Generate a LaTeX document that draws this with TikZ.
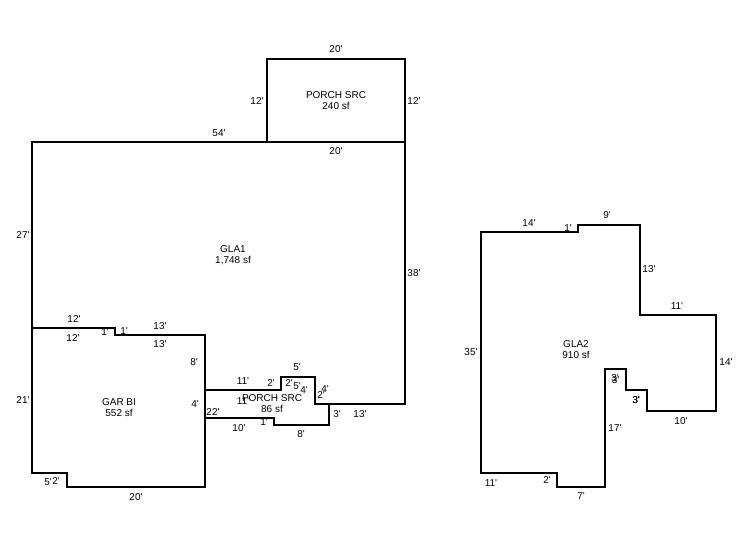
\documentclass[tikz,border=0pt]{standalone}
\usepackage{fontspec}
\newfontfamily\dimfont{Liberation Sans}

\begin{document}
\begin{tikzpicture}[x=1pt,y=-1pt]
\tikzstyle{every node}+=[inner sep=0pt,align=center,font=\dimfont\fontsize{10}{11}\selectfont]
\tikzstyle{wall}=[black,line width=2.4pt,line join=miter]
\useasboundingbox (0,0) rectangle (746,547);
% porch on top
\draw [wall] (267,142) -- (267,59) -- (405,59) -- (405,142);
\draw (336,49) node (ptop) {20'};
\draw (257,101) node (pleft) {12'};
\draw (414,101) node (pright) {12'};
\draw (336,100.5) node (porchtop) {PORCH SRC\\240 sf};
\draw (336,151) node (pbottom) {20'};
% GLA1
\draw [wall] (32,328) -- (32,142) -- (405,142) -- (405,404) -- (315,404) -- (315,377) -- (281,377) -- (281,390) -- (205,390);
\draw (219,133) node (gtop) {54'};
\draw (23,235) node (gleft) {27'};
\draw (414,273) node (gright) {38'};
\draw (233,255.5) node (gla1) {GLA1\\1,748 sf};
\draw (74,319) node (gb12) {12'};
\draw (105,332) node (gb1) {1'};
\draw (160,326) node (gb13) {13'};
\draw (243,381) node (g11) {11'};
\draw (271,383) node (g2a) {2'};
\draw (297,367) node (g5) {5'};
\draw (304,390) node (g4) {4'};
\draw (360,414) node (g13) {13'};
% garage
\draw [wall] (205,335) -- (115,335) -- (115,328) -- (32,328) -- (32,473) -- (67,473) -- (67,487) -- (205,487) -- cycle;
\draw (73,338) node (ga12) {12'};
\draw (124,331) node (ga1) {1'};
\draw (160,344) node (ga13) {13'};
\draw (194,362) node (ga8) {8'};
\draw (23,400) node (ga21) {21'};
\draw (119,407.5) node (gar) {GAR BI\\552 sf};
\draw (195,404) node (ga4) {4'};
\draw (48,482) node (ga5) {5'};
\draw (56,481) node (ga2) {2'};
\draw (136,497) node (ga20) {20'};
% porch in the corner
\draw [wall] (205,418) -- (274,418) -- (274,425) -- (329,425) -- (329,404);
\draw (243,401) node (p11) {11'};
\draw (272,403.5) node (porchlow) {PORCH SRC\\86 sf};
\draw (289,383) node (p2) {2'};
\draw (297,386) node (p5) {5'};
\draw (325,389) node (p4) {4'};
\draw (321,395) node (p2b) {2'};
\draw (213,412) node (p22) {22'};
\draw (239,428) node (p10) {10'};
\draw (264,422) node (p1) {1'};
\draw (301,434) node (p8) {8'};
\draw (337,414) node (p3) {3'};
% GLA2
\draw [wall] (481,232) -- (578,232) -- (578,225) -- (640,225) -- (640,315) -- (716,315) -- (716,411) -- (647,411) -- (647,390) -- (626,390) -- (626,369) -- (605,369) -- (605,487) -- (557,487) -- (557,473) -- (481,473) -- cycle;
\draw (529,223) node (s14) {14'};
\draw (568,228) node (s1) {1'};
\draw (607,215) node (s9) {9'};
\draw (649,269) node (s13) {13'};
\draw (677,306) node (s11) {11'};
\draw (726,362) node (s14b) {14'};
\draw (471,352) node (s35) {35'};
\draw (576,349.5) node (gla2) {GLA2\\910 sf};
\draw (615,378.5) node (s3a) {3'};
\draw (615.7,379.7) node (s3b) {3'};
\draw (636,400) node (s3c) {3'};
\draw (636.4,400) node (s3d) {3'};
\draw (681,421) node (s10) {10'};
\draw (615,428) node (s17) {17'};
\draw (581,496) node (s7) {7'};
\draw (547,480) node (s2) {2'};
\draw (491,483) node (s11b) {11'};
\end{tikzpicture}
\end{document}
